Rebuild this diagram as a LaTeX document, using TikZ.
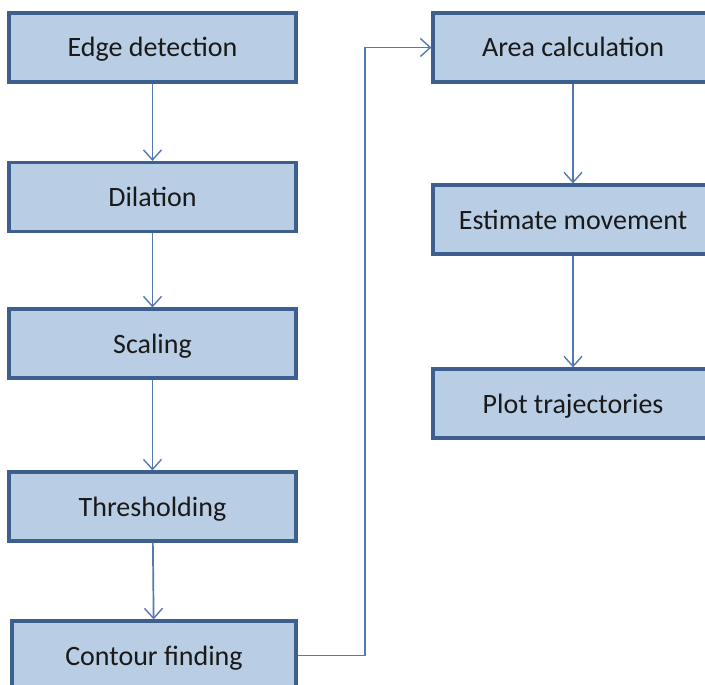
\documentclass[tikz,border=0pt]{standalone}
\usepackage{fontspec}
\setmainfont{Carlito}
\usetikzlibrary{arrows.meta}
\definecolor{boxfill}{HTML}{B9CDE5}
\definecolor{boxline}{HTML}{3D5F8E}
\definecolor{arrline}{HTML}{5479B0}
\begin{document}
\begin{tikzpicture}[x=1pt,y=-1pt,
  stepbox/.style={draw=boxline, fill=boxfill, line width=3.2pt, inner sep=0pt,
    minimum height=69pt, text height=19pt, text depth=0pt,
    font=\fontsize{28}{32}\selectfont, text=black!90},
  arr/.style={draw=arrline, line width=1.7pt, -{Straight Barb[length=10pt,width=18pt,line width=1.4pt]}}]
\useasboundingbox (0,0) rectangle (705,685);
\clip (0,0) rectangle (705,685);
\node[stepbox, minimum width=287pt] (edge) at (152.5,47.5) {Edge detection};
\node[stepbox, minimum width=287pt] (dil) at (152.5,197) {Dilation};
\node[stepbox, minimum width=287pt] (scal) at (152.5,343.5) {Scaling};
\node[stepbox, minimum width=287pt] (thr) at (152.5,506.5) {Thresholding};
\node[stepbox, minimum width=284pt] (cont) at (154,655.5) {Contour finding};
\node[stepbox, minimum width=280pt] (area) at (573,47.5) {Area calculation};
\node[stepbox, minimum width=280pt] (est) at (573,219.5) {Estimate movement};
\node[stepbox, minimum width=280pt] (plot) at (573,403.5) {Plot trajectories};
\draw[arr] (edge) -- (dil);
\draw[arr] (dil) -- (scal);
\draw[arr] (scal) -- (thr);
\draw[arr] (thr) -- (cont);
\draw[arr] (area) -- (est);
\draw[arr] (est) -- (plot);
\coordinate (bend) at (365,47.5);
\draw[arr] (cont.east) -| (bend) -- (area.west);
\end{tikzpicture}
\end{document}
